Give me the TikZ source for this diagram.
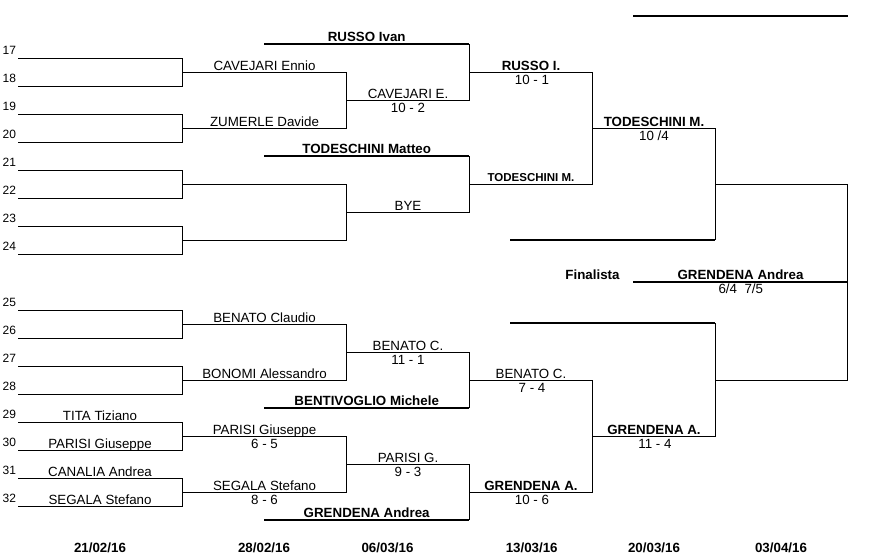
\documentclass[tikz,border=0pt]{standalone}
\usepackage{fontspec}
\setmainfont{Liberation Sans}
\usepackage{tikz}
\usetikzlibrary{positioning}
\tikzset{
        seed/.style={
                anchor=base west,
                inner sep=0pt,
                font=\fontsize{12}{14}\selectfont
            },
        player/.style={
                anchor=base,
                inner sep=0pt,
                font=\fontsize{13.33}{16}\selectfont
            },
        winner/.style={
                player,
                font=\fontsize{13.33}{16}\selectfont\bfseries
            },
        result/.style={
                player
            },
        day/.style={
                winner
            },
        match/.style={draw=black,line width=1pt},
        byeline/.style={draw=black,line width=2pt},
}

\begin{document}
\begin{tikzpicture}[x=1pt,y=-1pt]
  \useasboundingbox (0,0) rectangle (872,555);
  % Columns
  \coordinate (c1) at (182.7,0);
  \coordinate (c2) at (346.7,0);
  \coordinate (c3) at (469.3,0);
  \coordinate (c4) at (592.7,0);
  \coordinate (c5) at (715.3,0);
  \coordinate (c6) at (847.7,0);
  % Seeds
  \node[seed] (n17) at (2.5,54.9) {17};
  \node[seed] (n18) at (2.5,82.9) {18};
  \node[seed] (n19) at (2.5,110.9) {19};
  \node[seed] (n20) at (2.5,138.9) {20};
  \node[seed] (n21) at (2.5,166.9) {21};
  \node[seed] (n22) at (2.5,194.9) {22};
  \node[seed] (n23) at (2.5,222.9) {23};
  \node[seed] (n24) at (2.5,250.9) {24};
  \node[seed] (n25) at (2.5,306.9) {25};
  \node[seed] (n26) at (2.5,334.9) {26};
  \node[seed] (n27) at (2.5,362.9) {27};
  \node[seed] (n28) at (2.5,390.9) {28};
  \node[seed] (n29) at (2.5,418.9) {29};
  \node[seed] (n30) at (2.5,446.9) {30};
  \node[seed] (n31) at (2.5,474.9) {31};
  \node[seed] (n32) at (2.5,502.9) {32};
  \coordinate (s17) at (18,58.3);
  \coordinate (s18) at (18,86.3);
  \coordinate (s19) at (18,114.3);
  \coordinate (s20) at (18,142.3);
  \coordinate (s21) at (18,170.3);
  \coordinate (s22) at (18,198.3);
  \coordinate (s23) at (18,226.3);
  \coordinate (s24) at (18,254.3);
  \coordinate (s25) at (18,310.3);
  \coordinate (s26) at (18,338.3);
  \coordinate (s27) at (18,366.3);
  \coordinate (s28) at (18,394.3);
  \coordinate (s29) at (18,422.3);
  \coordinate (s30) at (18,450.3);
  \coordinate (s31) at (18,478.3);
  \coordinate (s32) at (18,506.3);
  % Round 1
  \draw[match] (s17) -- (s17 -| c1) -- (s18 -| c1) -- (s18);
  \draw[match] (s19) -- (s19 -| c1) -- (s20 -| c1) -- (s20);
  \draw[match] (s21) -- (s21 -| c1) -- (s22 -| c1) -- (s22);
  \draw[match] (s23) -- (s23 -| c1) -- (s24 -| c1) -- (s24);
  \draw[match] (s25) -- (s25 -| c1) -- (s26 -| c1) -- (s26);
  \draw[match] (s27) -- (s27 -| c1) -- (s28 -| c1) -- (s28);
  \draw[match] (s29) -- (s29 -| c1) -- (s30 -| c1) -- (s30);
  \draw[match] (s31) -- (s31 -| c1) -- (s32 -| c1) -- (s32);
  \node[player] (tita) at (100,420) {TITA Tiziano};
  \node[player] (parisi1) at (100,448) {PARISI Giuseppe};
  \node[player] (canalia) at (100,476) {CANALIA Andrea};
  \node[player] (segala1) at (100,504) {SEGALA Stefano};
  % Round 2
  \coordinate (q1) at (182.7,72.3);
  \coordinate (q2) at (182.7,128.3);
  \coordinate (q3) at (182.7,184.3);
  \coordinate (q4) at (182.7,240.3);
  \coordinate (q5) at (182.7,324.3);
  \coordinate (q6) at (182.7,380.3);
  \coordinate (q7) at (182.7,436.3);
  \coordinate (q8) at (182.7,492.3);
  \draw[match] (q1) -- (q1 -| c2) -- (q2 -| c2) -- (q2);
  \draw[match] (q3) -- (q3 -| c2) -- (q4 -| c2) -- (q4);
  \draw[match] (q5) -- (q5 -| c2) -- (q6 -| c2) -- (q6);
  \draw[match] (q7) -- (q7 -| c2) -- (q8 -| c2) -- (q8);
  \node[player] (cavejari2) at (264.5,70) {CAVEJARI Ennio};
  \node[player] (zumerle2) at (264.5,126) {ZUMERLE Davide};
  \node[player] (benato2) at (264.5,322) {BENATO Claudio};
  \node[player] (bonomi2) at (264.5,378) {BONOMI Alessandro};
  \node[player] (parisi2) at (264.5,434) {PARISI Giuseppe};
  \node[result] (parisi2score) at (264.5,448) {6 - 5};
  \node[player] (segala2) at (264.5,490) {SEGALA Stefano};
  \node[result] (segala2score) at (264.5,504) {8 - 6};
  % Round 3 and byes
  \coordinate (t1) at (346.7,100.3);
  \coordinate (t2) at (346.7,212.3);
  \coordinate (t3) at (346.7,352.3);
  \coordinate (t4) at (346.7,464.3);
  \coordinate (b1) at (264,43.7);
  \coordinate (b2) at (264,155.7);
  \coordinate (b3) at (264,407.7);
  \coordinate (b4) at (264,519.7);
  \draw[match] (t1) -- (t1 -| c3) -- (b1 -| c3);
  \draw[match] (t2) -- (t2 -| c3) -- (b2 -| c3);
  \draw[match] (t3) -- (t3 -| c3) -- (b3 -| c3);
  \draw[match] (t4) -- (t4 -| c3) -- (b4 -| c3);
  \draw[byeline] (b1) -- (b1 -| c3);
  \draw[byeline] (b2) -- (b2 -| c3);
  \draw[byeline] (b3) -- (b3 -| c3);
  \draw[byeline] (b4) -- (b4 -| c3);
  \node[winner] (russo3) at (366.7,41.4) {RUSSO Ivan};
  \node[winner] (todeschini3) at (366.7,153.4) {TODESCHINI Matteo};
  \node[winner] (bentivoglio3) at (366.7,405.4) {BENTIVOGLIO Michele};
  \node[winner] (grendena3) at (366.7,517.4) {GRENDENA Andrea};
  \node[player] (cavejari3) at (408,98) {CAVEJARI E.};
  \node[result] (cavejari3score) at (408,112) {10 - 2};
  \node[player] (bye3) at (408,210) {BYE};
  \node[player] (benato3) at (408,350) {BENATO C.};
  \node[result] (benato3score) at (408,364) {11 - 1};
  \node[player] (parisi3) at (408,462) {PARISI G.};
  \node[result] (parisi3score) at (408,476) {9 - 3};
  % Round 4
  \coordinate (r1) at (469.3,72.3);
  \coordinate (r2) at (469.3,184);
  \coordinate (r3) at (469.3,380.3);
  \coordinate (r4) at (469.3,492.3);
  \draw[match] (r1) -- (r1 -| c4) -- (r2 -| c4) -- (r2);
  \draw[match] (r3) -- (r3 -| c4) -- (r4 -| c4) -- (r4);
  \node[winner] (russo4) at (531,70) {RUSSO I.};
  \node[result] (russo4score) at (532,84) {10 - 1};
  \node[winner,font=\fontsize{11.5}{14}\selectfont\bfseries] (todeschini4) at (531,181.7) {TODESCHINI M.};
  \node[player] (benato4) at (531,378) {BENATO C.};
  \node[result] (benato4score) at (532,392) {7 - 4};
  \node[winner] (grendena4) at (531,490) {GRENDENA A.};
  \node[result] (grendena4score) at (532,504) {10 - 6};
  % Round 5
  \coordinate (u1) at (592.7,128.3);
  \coordinate (u2) at (592.7,436.3);
  \coordinate (v1) at (510,240);
  \coordinate (v2) at (510,323.3);
  \draw[match] (u1) -- (u1 -| c5) -- (v1 -| c5);
  \draw[match] (u2) -- (u2 -| c5) -- (v2 -| c5);
  \draw[byeline] (v1) -- (v1 -| c5);
  \draw[byeline] (v2) -- (v2 -| c5);
  \node[winner] (todeschini5) at (654,126) {TODESCHINI M.};
  \node[result] (todeschini5score) at (654,140) {10 /4};
  \node[winner] (grendena5) at (654,434) {GRENDENA A.};
  \node[result] (grendena5score) at (655,448) {11 - 4};
  % Final
  \coordinate (w1) at (715.3,184);
  \coordinate (w2) at (715.3,380);
  \coordinate (f1) at (633.3,282);
  \coordinate (f0) at (633.3,15.7);
  \draw[match] (w1) -- (w1 -| c6) -- (w2 -| c6) -- (w2);
  \draw[byeline] (f1) -- (f1 -| c6);
  \draw[byeline] (f0) -- (f0 -| c6);
  \node[winner] (finalista) at (592.5,279.7) {Finalista};
  \node[winner] (grendena6) at (740.5,279.7) {GRENDENA Andrea};
  \node[result] (grendena6score) at (740.8,293.7) {6/4\ \ 7/5};
  % Dates
  \node[day] (d1) at (100,552.3) {21/02/16};
  \node[day] (d2) at (264,552.3) {28/02/16};
  \node[day] (d3) at (387.5,552.3) {06/03/16};
  \node[day] (d4) at (531.7,552.3) {13/03/16};
  \node[day] (d5) at (654,552.3) {20/03/16};
  \node[day] (d6) at (781,552.3) {03/04/16};
\end{tikzpicture}
\end{document}
